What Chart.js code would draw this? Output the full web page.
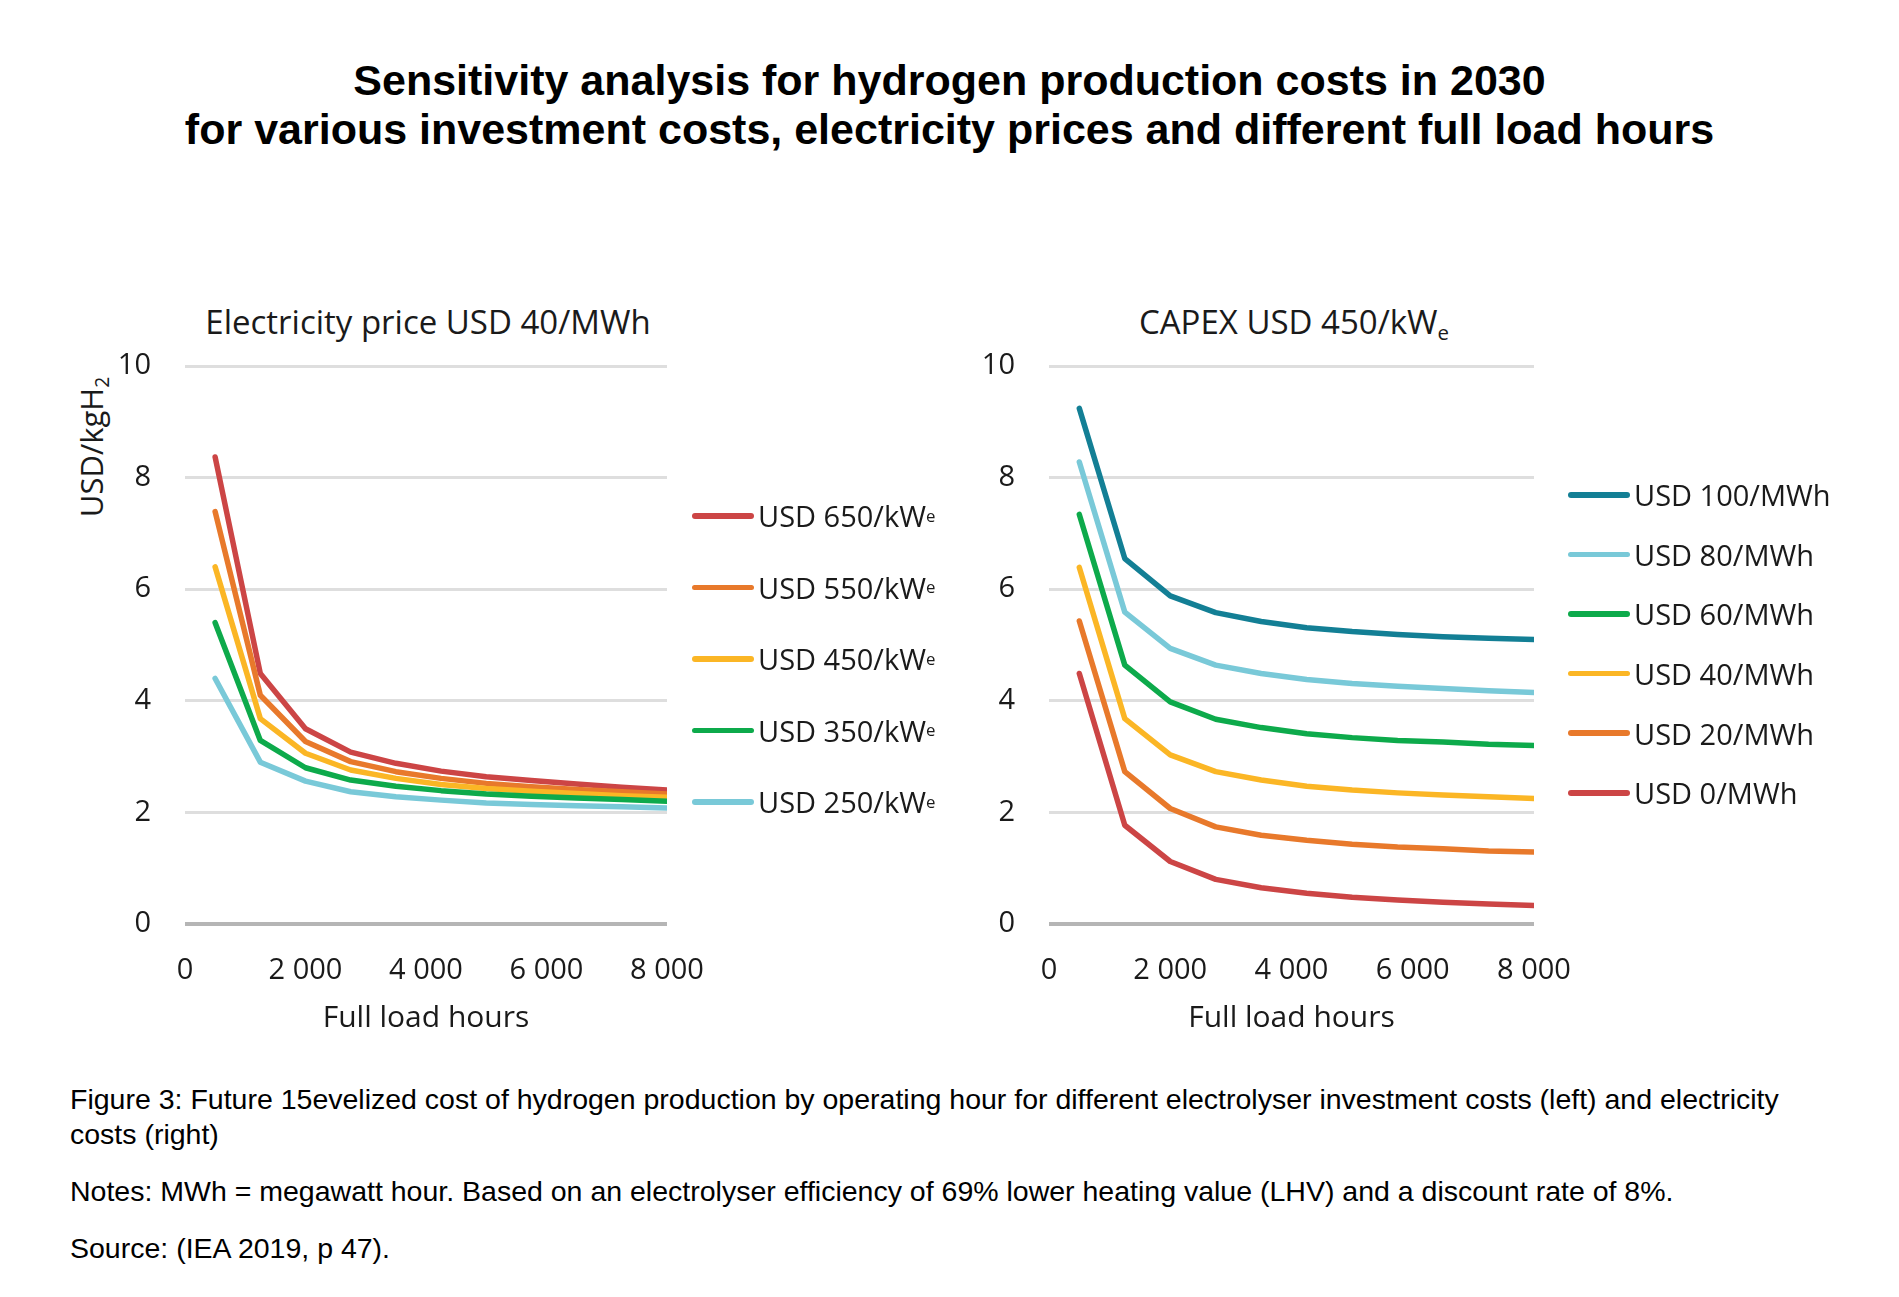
<!DOCTYPE html>
<html>
<head>
<meta charset="utf-8">
<title>Sensitivity analysis for hydrogen production costs in 2030</title>
<script src="https://cdn.jsdelivr.net/npm/chart.js@4.4.1/dist/chart.umd.min.js"></script>
<style>
  body { margin: 0; width: 1899px; height: 1297px; background: #fff; position: relative; overflow: hidden; }
  .main-title { position: absolute; left: 0; width: 1899px; top: 56px; text-align: center;
    font-family: 'Liberation Sans', Arial, sans-serif; font-weight: bold; font-size: 43px; line-height: 49px; color: #000; }
  .sub-title { position: absolute; top: 300px; font-family: 'Open Sans', sans-serif; font-size: 33px; line-height: 44px;
    color: #1a1a1a; white-space: nowrap; transform: translateX(-50%); }
  .y-title { position: absolute; font-family: 'Open Sans', sans-serif; font-size: 31px; color: #1a1a1a; white-space: nowrap;
    transform: translate(-50%, -50%) rotate(-90deg); }
  sub { font-size: 62%; vertical-align: -0.3em; line-height: 0; }
  canvas { position: absolute; }
  .legend { position: absolute; font-family: 'Open Sans', sans-serif; font-size: 29px; color: #1a1a1a; }
  .legend .item { display: flex; align-items: center; white-space: nowrap; }
  .legend .swatch { width: 62px; height: 5.5px; border-radius: 3px; margin-right: 4px; }
  .legend sub { font-size: 58%; vertical-align: -0.4em; }
  .caption { position: absolute; left: 70px; width: 1740px; top: 1082px; font-family: 'Liberation Sans', Arial, sans-serif;
    font-size: 28.5px; line-height: 35px; color: #000; }
  .caption p { margin: 0 0 22px 0; }
</style>
</head>
<body>
<div class="main-title">Sensitivity analysis for hydrogen production costs in 2030<br>for various investment costs, electricity prices and different full load hours</div>

<div class="sub-title" style="left:428px">Electricity price USD 40/MWh</div>
<div class="sub-title" style="left:1294px">CAPEX USD 450/kW<sub>e</sub></div>
<div class="y-title" style="left:91px; top:447px">USD/kgH<sub>2</sub></div>

<canvas id="leftChart" width="707" height="734" style="left:40px; top:306px"></canvas>
<canvas id="rightChart" width="654" height="734" style="left:960px; top:306px"></canvas>

<div class="legend" id="leftLegend" style="left:692px; top:480px"></div>
<div class="legend" id="rightLegend" style="left:1568px; top:465px"></div>

<div class="caption">
  <p>Figure 3: Future 15evelized cost of hydrogen production by operating hour for different electrolyser investment costs (left) and electricity costs (right)</p>
  <p>Notes: MWh = megawatt hour. Based on an electrolyser efficiency of 69% lower heating value (LHV) and a discount rate of 8%.</p>
  <p>Source: (IEA 2019, p 47).</p>
</div>

<script>
// Full load hours (x values shared by both panels)
const hours = [500, 1250, 2000, 2750, 3500, 4250, 5000, 5750, 6500, 7250, 8000];
const xTickLabels = ['0', '2 000', '4 000', '6 000', '8 000'];
const yTickLabels = ['0', '2', '4', '6', '8', '10'];

// Left panel: investment costs at USD 40/MWh
const capexLabels = ['USD 650/kWₑ', 'USD 550/kWₑ', 'USD 450/kWₑ', 'USD 350/kWₑ', 'USD 250/kWₑ'];
const capex650 = [8.37, 4.49, 3.50, 3.08, 2.88, 2.74, 2.64, 2.57, 2.51, 2.45, 2.40];
const capex550 = [7.39, 4.10, 3.27, 2.91, 2.73, 2.61, 2.52, 2.46, 2.41, 2.37, 2.33];
const capex450 = [6.40, 3.68, 3.06, 2.76, 2.61, 2.50, 2.43, 2.38, 2.34, 2.30, 2.27];
const capex350 = [5.40, 3.29, 2.80, 2.58, 2.47, 2.39, 2.33, 2.29, 2.26, 2.23, 2.20];
const capex250 = [4.40, 2.90, 2.56, 2.37, 2.28, 2.22, 2.17, 2.14, 2.12, 2.10, 2.08];
const capexColors = ['#cc4545', '#e8792b', '#fbb625', '#0daa4b', '#79c9d8'];

// Right panel: electricity prices at CAPEX USD 450/kWe
const elecLabels = ['USD 100/MWh', 'USD 80/MWh', 'USD 60/MWh', 'USD 40/MWh', 'USD 20/MWh', 'USD 0/MWh'];
const elec100 = [9.24, 6.55, 5.88, 5.58, 5.42, 5.31, 5.24, 5.19, 5.15, 5.12, 5.10];
const elec80 = [8.28, 5.59, 4.94, 4.64, 4.49, 4.38, 4.31, 4.26, 4.22, 4.18, 4.15];
const elec60 = [7.34, 4.64, 3.98, 3.67, 3.52, 3.41, 3.34, 3.29, 3.26, 3.22, 3.20];
const elec40 = [6.39, 3.68, 3.03, 2.73, 2.58, 2.47, 2.40, 2.35, 2.31, 2.28, 2.25];
const elec20 = [5.43, 2.73, 2.07, 1.74, 1.59, 1.50, 1.43, 1.38, 1.35, 1.31, 1.29];
const elec0 = [4.49, 1.77, 1.12, 0.80, 0.65, 0.55, 0.48, 0.43, 0.39, 0.36, 0.33];
const elecColors = ['#137f95', '#79c9d8', '#0daa4b', '#fbb625', '#e8792b', '#cc4545'];

const tickFont = { family: 'Open Sans', size: 29 };

function buildDatasets(labels, series, colors) {
    return series.map((values, i) => ({
        label: labels[i],
        data: values.map((v, j) => ({ x: hours[j], y: v })),
        borderColor: colors[i],
        backgroundColor: colors[i],
        borderWidth: 5.5,
        pointRadius: 0,
        tension: 0,
        borderCapStyle: 'round',
        borderJoinStyle: 'round'
    })).reverse(); // first legend entry drawn on top
}

// padding top/right are large enough to override the tick-label overflow
function makeChart(id, labels, series, colors, yAxisWidth) {
    const ctx = document.getElementById(id).getContext('2d');
    return new Chart(ctx, {
        type: 'line',
        data: { datasets: buildDatasets(labels, series, colors) },
        options: {
            responsive: false,
            animation: false,
            devicePixelRatio: 1,
            layout: { padding: { top: 60, right: 80, bottom: 0, left: 0 } },
            plugins: { legend: { display: false }, tooltip: { enabled: false } },
            scales: {
                x: {
                    type: 'linear',
                    min: 0,
                    max: 8000,
                    afterFit: (scale) => { scale.height = 116; },
                    afterBuildTicks: (scale) => {
                        scale.ticks = xTickLabels.map((_, i) => ({ value: i * 2000 }));
                    },
                    ticks: {
                        font: tickFont,
                        color: '#1a1a1a',
                        padding: 29,
                        maxRotation: 0,
                        callback: (value, index) => xTickLabels[index]
                    },
                    grid: { display: false, drawTicks: false },
                    border: { display: false },
                    title: {
                        display: true,
                        text: 'Full load hours',
                        font: { family: 'Open Sans', size: 30 },
                        color: '#1a1a1a',
                        padding: { top: 0, bottom: 4 }
                    }
                },
                y: {
                    min: 0,
                    max: 10,
                    afterFit: (scale) => { scale.width = yAxisWidth; },
                    afterBuildTicks: (scale) => {
                        scale.ticks = yTickLabels.map((t) => ({ value: Number(t) }));
                    },
                    ticks: {
                        font: tickFont,
                        color: '#1a1a1a',
                        padding: 34,
                        callback: (value, index) => yTickLabels[index]
                    },
                    grid: {
                        drawTicks: false,
                        color: (c) => c.tick && c.tick.value === 0 ? '#b5b5b5' : '#dedede',
                        lineWidth: (c) => c.tick && c.tick.value === 0 ? 4 : 3
                    },
                    border: { display: false }
                }
            }
        }
    });
}

function buildLegend(el, chart, rowHeight) {
    // legend order follows the original label order
    const items = chart.data.datasets.slice().reverse();
    el.innerHTML = items.map((ds) =>
        '<div class="item" style="height:' + rowHeight + 'px"><span class="swatch" style="background:' + ds.borderColor + '"></span>' +
        ds.label.replace('ₑ', '<sub>e</sub>') + '</div>'
    ).join('');
}

document.addEventListener('DOMContentLoaded', () => {
    const left = makeChart('leftChart', capexLabels, [capex650, capex550, capex450, capex350, capex250], capexColors, 145);
    const right = makeChart('rightChart', elecLabels, [elec100, elec80, elec60, elec40, elec20, elec0], elecColors, 89);
    buildLegend(document.getElementById('leftLegend'), left, 71.5);
    buildLegend(document.getElementById('rightLegend'), right, 59.6);
});
</script>
</body>
</html>
